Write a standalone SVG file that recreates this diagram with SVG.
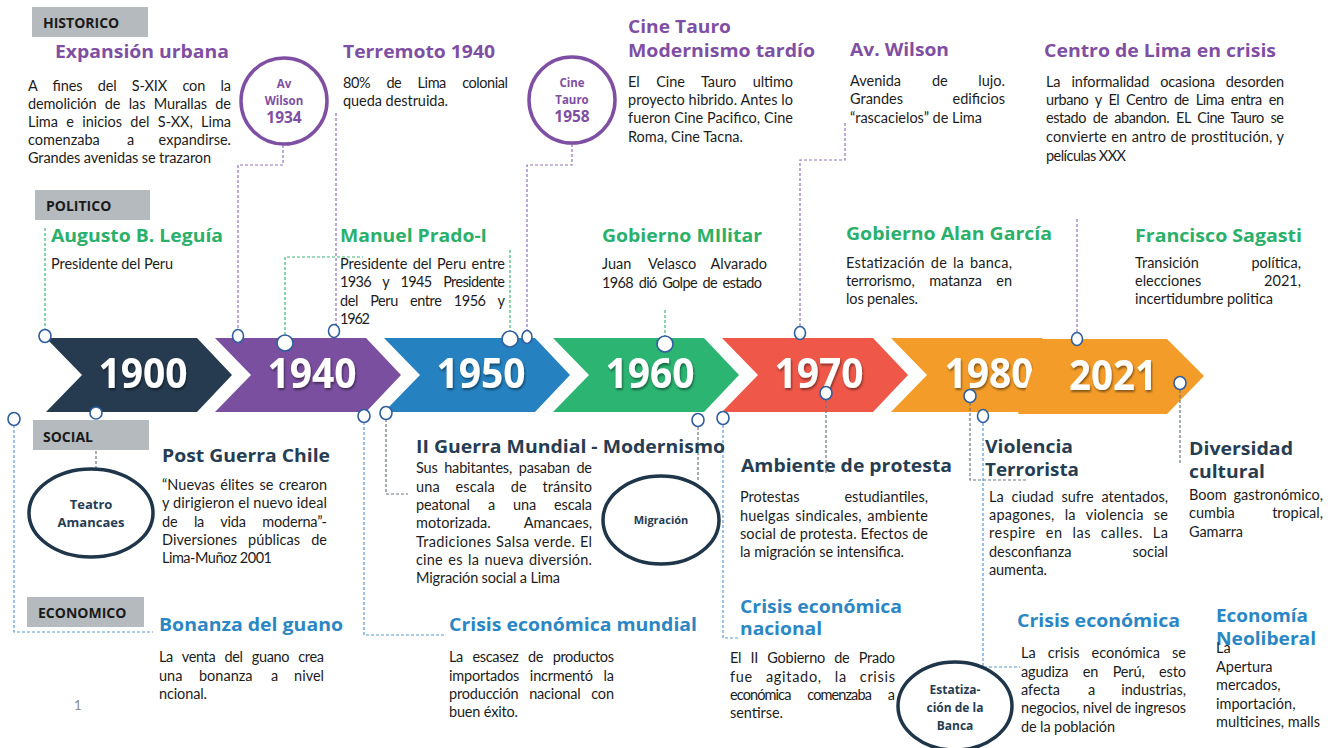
<svg xmlns="http://www.w3.org/2000/svg" width="1339" height="748" viewBox="0 0 1339 748">
<defs>
<filter id="sh" x="-20%" y="-20%" width="140%" height="150%"><feDropShadow dx="1" dy="2" stdDeviation="1" flood-color="#000" flood-opacity="0.45"/></filter>
<style>
.b{font-family:Lato,"Open Sans",sans-serif;font-size:14.5px;fill:#1c1c1c}
.e{text-anchor:end}
.t{font-family:"Open Sans","Noto Sans",sans-serif;font-weight:700;font-size:18px}
.hp{fill:#7f4fa3}.hg{fill:#2ab06a}.hn{fill:#263d52}.hb{fill:#2b87c4}
.cat{font-family:"Open Sans",sans-serif;font-weight:700;font-size:14px;fill:#1a1a1a}
.box{fill:#b4babe}
.yr{font-family:"Open Sans",sans-serif;font-weight:700;font-size:42px;fill:#fff;text-anchor:middle;filter:url(#sh)}
.ct{font-family:"Open Sans",sans-serif;font-weight:700;text-anchor:middle}
.ring{fill:#fff;stroke:#7f4fa3;stroke-width:3.5}
.ell{fill:#fff;stroke:#1f3549;stroke-width:3.5}
.dp,.dg,.dk,.db{fill:none;stroke-width:1.2;stroke-dasharray:3 2}
.dp{stroke:#9572bd}.dg{stroke:#3cb878}.dk{stroke:#6b7580}.db{stroke:#5b9bd5}
.pt{fill:#fff;stroke:#2f5e9e;stroke-width:1.6}
</style>
</defs>
<rect width="1339" height="748" fill="#fff"/>

<!-- category labels -->
<g id="cat-historico"><rect class="box" x="32" y="7" width="116" height="30"/><text class="cat" x="43" y="28">HISTORICO</text></g>
<g id="cat-politico"><rect class="box" x="35" y="190" width="115" height="30"/><text class="cat" x="46" y="211">POLITICO</text></g>
<g id="cat-social"><rect class="box" x="33" y="420" width="116" height="30"/><text class="cat" x="43" y="442">SOCIAL</text></g>
<g id="cat-economico"><rect class="box" x="27" y="597" width="117" height="30"/><text class="cat" x="38" y="618">ECONOMICO</text></g>

<!-- timeline chevrons -->
<g id="y1900"><path d="M46,338 H197 L232,375 L197,412 H46 L82,375 Z" fill="#263b50"/><text class="yr" x="143" y="388" textLength="89" lengthAdjust="spacingAndGlyphs">1900</text></g>
<g id="y1940"><path d="M215,338 H366 L401,375 L366,412 H215 L251,375 Z" fill="#7a4f9f"/><text class="yr" x="312" y="388" textLength="89" lengthAdjust="spacingAndGlyphs">1940</text></g>
<g id="y1950"><path d="M384,338 H535 L570,375 L535,412 H384 L420,375 Z" fill="#2581bf"/><text class="yr" x="481" y="388" textLength="89" lengthAdjust="spacingAndGlyphs">1950</text></g>
<g id="y1960"><path d="M553,338 H704 L739,375 L704,412 H553 L589,375 Z" fill="#2bb472"/><text class="yr" x="650" y="388" textLength="89" lengthAdjust="spacingAndGlyphs">1960</text></g>
<g id="y1970"><path d="M722,338 H873 L908,375 L873,412 H722 L758,375 Z" fill="#ef5749"/><text class="yr" x="819" y="388" textLength="89" lengthAdjust="spacingAndGlyphs">1970</text></g>
<g id="y1980"><path d="M891,338 H1042 L1077,375 L1042,412 H891 L927,375 Z" fill="#f39c29"/><text class="yr" x="989" y="388" textLength="89" lengthAdjust="spacingAndGlyphs">1980</text></g>
<g id="y2021"><path d="M1042,339 H1167 L1204,376 L1167,414 H1018 L1030,376 Z" fill="#f39c29"/><text class="yr" x="1113" y="390" textLength="88" lengthAdjust="spacingAndGlyphs">2021</text></g>

<!-- connectors -->
<g id="connectors">
<path class="dg" d="M45,228 V330"/>
<path class="dp" d="M283,145 V165 H238 V330"/>
<path class="dg" d="M285,335 V257 H363"/>
<path class="dp" d="M336,113 V325"/>
<path class="dg" d="M510,250 V331"/>
<path class="dp" d="M572,144 V165 H527 V330"/>
<path class="dg" d="M665,310 V336"/>
<path class="dp" d="M845,123 V160 H800 V326"/>
<path class="dp" d="M1077,219 V333"/>
<path class="db" d="M14,425 V632 H153"/>
<path class="dk" d="M96,451 V469"/>
<path class="db" d="M364,422 V635 H445"/>
<path class="dk" d="M386,419 V494 H408"/>
<path class="dk" d="M698,427 V482"/>
<path class="db" d="M723,425 V638 H738"/>
<path class="dk" d="M826,400 V473"/>
<path class="dk" d="M970,403 V480 H1028"/>
<path class="db" d="M983,423 V667 H1020"/>
<path class="dk" d="M1180,390 V463"/>
<ellipse class="pt" cx="45" cy="336" rx="6" ry="6.5"/>
<ellipse class="pt" cx="238" cy="336" rx="5.5" ry="6.5"/>
<ellipse class="pt" cx="285" cy="343" rx="8" ry="8"/>
<ellipse class="pt" cx="334" cy="331" rx="5.5" ry="6.5"/>
<ellipse class="pt" cx="510" cy="339" rx="8" ry="8"/>
<ellipse class="pt" cx="527" cy="337" rx="5" ry="6.5"/>
<ellipse class="pt" cx="665" cy="344" rx="8" ry="8"/>
<ellipse class="pt" cx="800" cy="333" rx="5.5" ry="6.5"/>
<ellipse class="pt" cx="1077" cy="339" rx="5.5" ry="6.5"/>
<ellipse class="pt" cx="14" cy="419" rx="6" ry="6.5"/>
<ellipse class="pt" cx="96" cy="413" rx="6" ry="6"/>
<ellipse class="pt" cx="364" cy="416" rx="6" ry="6.5"/>
<ellipse class="pt" cx="386" cy="413" rx="6" ry="6.5"/>
<ellipse class="pt" cx="698" cy="420" rx="6" ry="6.5"/>
<ellipse class="pt" cx="723" cy="418" rx="6" ry="6.5"/>
<ellipse class="pt" cx="826" cy="393" rx="6" ry="6.5"/>
<ellipse class="pt" cx="970" cy="396" rx="6" ry="6.5"/>
<ellipse class="pt" cx="983" cy="416" rx="5.5" ry="6.5"/>
<ellipse class="pt" cx="1180" cy="383" rx="6" ry="6.5"/>
</g>

<!-- HISTORICO nodes -->
<g id="expansion-urbana">
<text class="t hp" x="55" y="58" textLength="174" lengthAdjust="spacingAndGlyphs">Expansión urbana</text>
<text class="b" x="28" y="91" textLength="203" style="word-spacing:11.6px">A fines del S-XIX con la</text>
<text class="b" x="28" y="109" textLength="203" style="word-spacing:4.8px">demolición de las Murallas de</text>
<text class="b" x="28" y="127" textLength="203" style="word-spacing:4.7px">Lima e inicios del S-XX, Lima</text>
<text class="b" x="28" y="145">comenzaba</text><text class="b" x="127" y="145">a</text><text class="b e" x="231" y="145">expandirse.</text>
<text class="b" x="28" y="163" textLength="183">Grandes avenidas se trazaron</text>
</g>
<g id="av-wilson-1934">
<circle class="ring" cx="284" cy="101" r="43"/>
<text class="ct hp" x="284" y="88" font-size="11.5">Av</text>
<text class="ct hp" x="284" y="105" font-size="11.5">Wilson</text>
<text class="ct hp" x="284" y="123" font-size="15.5">1934</text>
</g>
<g id="terremoto-1940">
<text class="t hp" x="343" y="58" textLength="152" lengthAdjust="spacingAndGlyphs">Terremoto 1940</text>
<text class="b" x="343" y="88" textLength="165" style="word-spacing:13px">80% de Lima colonial</text>
<text class="b" x="343" y="106" textLength="105">queda destruida.</text>
</g>
<g id="cine-tauro-1958">
<circle class="ring" cx="572" cy="100" r="43"/>
<text class="ct hp" x="572" y="87" font-size="11.5">Cine</text>
<text class="ct hp" x="572" y="104" font-size="11.5">Tauro</text>
<text class="ct hp" x="572" y="122" font-size="15.5">1958</text>
</g>
<g id="cine-tauro">
<text class="t hp" x="628" y="33" textLength="103" lengthAdjust="spacingAndGlyphs">Cine Tauro</text>
<text class="t hp" x="628" y="57" textLength="187" lengthAdjust="spacingAndGlyphs">Modernismo tardío</text>
<text class="b" x="628" y="87" textLength="165" style="word-spacing:13px">El Cine Tauro ultimo</text>
<text class="b" x="628" y="105" textLength="165">proyecto hibrido. Antes lo</text>
<text class="b" x="628" y="123" textLength="165">fueron Cine Pacifico, Cine</text>
<text class="b" x="628" y="142" textLength="115">Roma, Cine Tacna.</text>
</g>
<g id="av-wilson">
<text class="t hp" x="850" y="56" textLength="99" lengthAdjust="spacingAndGlyphs">Av. Wilson</text>
<text class="b" x="850" y="86">Avenida</text><text class="b" x="932" y="86">de</text><text class="b e" x="1005" y="86">lujo.</text>
<text class="b" x="850" y="104">Grandes</text><text class="b e" x="1005" y="104">edificios</text>
<text class="b" x="850" y="123" textLength="132">“rascacielos” de Lima</text>
</g>
<g id="centro-lima">
<text class="t hp" x="1044" y="57" textLength="232" lengthAdjust="spacingAndGlyphs">Centro de Lima en crisis</text>
<text class="b" x="1046" y="87" textLength="238" style="word-spacing:7.5px">La informalidad ocasiona desorden</text>
<text class="b" x="1046" y="105" textLength="238" style="word-spacing:3.6px">urbano y El Centro de Lima entra en</text>
<text class="b" x="1046" y="123" textLength="238" style="word-spacing:3.5px">estado de abandon. EL Cine Tauro se</text>
<text class="b" x="1046" y="142" textLength="238" style="word-spacing:0.6px">convierte en antro de prostitución, y</text>
<text class="b" x="1046" y="161" textLength="80">películas XXX</text>
</g>

<!-- POLITICO nodes -->
<g id="leguia">
<text class="t hg" x="51" y="242" textLength="172" lengthAdjust="spacingAndGlyphs">Augusto B. Leguía</text>
<text class="b" x="51" y="269" textLength="122">Presidente del Peru</text>
</g>
<g id="prado">
<text class="t hg" x="340" y="242" textLength="147" lengthAdjust="spacingAndGlyphs">Manuel Prado-I</text>
<text class="b" x="340" y="269" textLength="165" style="word-spacing:1.6px">Presidente del Peru entre</text>
<text class="b" x="340" y="287" textLength="165" style="word-spacing:8.5px">1936 y 1945 Presidente</text>
<text class="b" x="340" y="306" textLength="165" style="word-spacing:9px">del Peru entre 1956 y</text>
<text class="b" x="340" y="324" textLength="30">1962</text>
</g>
<g id="gobierno-militar">
<text class="t hg" x="602" y="242" textLength="160" lengthAdjust="spacingAndGlyphs">Gobierno MIlitar</text>
<text class="b" x="602" y="269">Juan</text><text class="b" x="648" y="269">Velasco</text><text class="b e" x="767" y="269">Alvarado</text>
<text class="b" x="602" y="288" textLength="160" style="word-spacing:2.5px">1968 dió Golpe de estado</text>
</g>
<g id="alan-garcia">
<text class="t hg" x="846" y="240" textLength="206" lengthAdjust="spacingAndGlyphs">Gobierno Alan García</text>
<text class="b" x="846" y="268" textLength="166" style="word-spacing:1.9px">Estatización de la banca,</text>
<text class="b" x="846" y="286" textLength="166" style="word-spacing:11px">terrorismo, matanza en</text>
<text class="b" x="846" y="304" textLength="72">los penales.</text>
</g>
<g id="sagasti">
<text class="t hg" x="1135" y="242" textLength="167" lengthAdjust="spacingAndGlyphs">Francisco Sagasti</text>
<text class="b" x="1135" y="268">Transición</text><text class="b e" x="1301" y="268">política,</text>
<text class="b" x="1135" y="286">elecciones</text><text class="b e" x="1301" y="286">2021,</text>
<text class="b" x="1135" y="304" textLength="138">incertidumbre politica</text>
</g>

<!-- SOCIAL nodes -->
<g id="teatro-amancaes">
<ellipse class="ell" cx="91" cy="513" rx="62" ry="44"/>
<text class="ct hn" x="91" y="509" font-size="13">Teatro</text>
<text class="ct hn" x="91" y="527" font-size="13">Amancaes</text>
</g>
<g id="post-guerra">
<text class="t hn" x="162" y="462" textLength="168" lengthAdjust="spacingAndGlyphs">Post Guerra Chile</text>
<text class="b" x="162" y="490" textLength="165" style="word-spacing:1.6px">“Nuevas élites se crearon</text>
<text class="b" x="162" y="508" textLength="165">y dirigieron el nuevo ideal</text>
<text class="b" x="162" y="527" textLength="165" style="word-spacing:13px">de la vida moderna”-</text>
<text class="b" x="162" y="545" textLength="165" style="word-spacing:7.2px">Diversiones públicas de</text>
<text class="b" x="162" y="563" textLength="110">Lima-Muñoz 2001</text>
</g>
<g id="ii-guerra">
<text class="t hn" x="416" y="453" textLength="309" lengthAdjust="spacingAndGlyphs">II Guerra Mundial - Modernismo</text>
<text class="b" x="416" y="473" textLength="176" style="word-spacing:3px">Sus habitantes, pasaban de</text>
<text class="b" x="416" y="492" textLength="176" style="word-spacing:12px">una escala de tránsito</text>
<text class="b" x="416" y="510" textLength="176" style="word-spacing:14.5px">peatonal a una escala</text>
<text class="b" x="416" y="528">motorizada.</text><text class="b e" x="592" y="528">Amancaes,</text>
<text class="b" x="416" y="547" textLength="176" style="word-spacing:0.7px">Tradiciones Salsa verde. El</text>
<text class="b" x="416" y="565" textLength="176" style="word-spacing:1.5px">cine es la nueva diversión.</text>
<text class="b" x="416" y="583" textLength="144">Migración social a Lima</text>
</g>
<g id="migracion">
<ellipse class="ell" cx="661" cy="520" rx="58" ry="44"/>
<text class="ct hn" x="661" y="524" font-size="11">Migración</text>
</g>
<g id="ambiente-protesta">
<text class="t hn" x="741" y="472" textLength="211" lengthAdjust="spacingAndGlyphs">Ambiente de protesta</text>
<text class="b" x="740" y="502">Protestas</text><text class="b e" x="928" y="502">estudiantiles,</text>
<text class="b" x="740" y="521" textLength="188" style="word-spacing:1.5px">huelgas sindicales, ambiente</text>
<text class="b" x="740" y="539" textLength="188">social de protesta. Efectos de</text>
<text class="b" x="740" y="557" textLength="164">la migración se intensifica.</text>
</g>
<g id="violencia">
<text class="t hn" x="985" y="453" textLength="88" lengthAdjust="spacingAndGlyphs">Violencia</text>
<text class="t hn" x="985" y="476" textLength="94" lengthAdjust="spacingAndGlyphs">Terrorista</text>
<text class="b" x="989" y="502" textLength="179" style="word-spacing:4px">La ciudad sufre atentados,</text>
<text class="b" x="989" y="520" textLength="179" style="word-spacing:6.3px">apagones, la violencia se</text>
<text class="b" x="989" y="538" textLength="179" style="word-spacing:5.7px">respire en las calles. La</text>
<text class="b" x="989" y="557">desconfianza</text><text class="b e" x="1168" y="557">social</text>
<text class="b" x="989" y="575" textLength="58">aumenta.</text>
</g>
<g id="diversidad">
<text class="t hn" x="1189" y="455" textLength="104" lengthAdjust="spacingAndGlyphs">Diversidad</text>
<text class="t hn" x="1189" y="478" textLength="76" lengthAdjust="spacingAndGlyphs">cultural</text>
<text class="b" x="1189" y="500">Boom</text><text class="b e" x="1323" y="500">gastronómico,</text>
<text class="b" x="1189" y="518">cumbia</text><text class="b e" x="1323" y="518">tropical,</text>
<text class="b" x="1189" y="537" textLength="54">Gamarra</text>
</g>

<!-- ECONOMICO nodes -->
<g id="bonanza">
<text class="t hb" x="159" y="631" textLength="184" lengthAdjust="spacingAndGlyphs">Bonanza del guano</text>
<text class="b" x="159" y="662" textLength="165" style="word-spacing:5.7px">La venta del guano crea</text>
<text class="b" x="159" y="681">una</text><text class="b" x="199" y="681">bonanza</text><text class="b" x="271" y="681">a</text><text class="b e" x="324" y="681">nivel</text>
<text class="b" x="159" y="699" textLength="48">ncional.</text>
</g>
<g id="crisis-mundial">
<text class="t hb" x="449" y="631" textLength="248" lengthAdjust="spacingAndGlyphs">Crisis económica mundial</text>
<text class="b" x="449" y="662" textLength="165" style="word-spacing:6.2px">La escasez de productos</text>
<text class="b" x="449" y="681" textLength="165" style="word-spacing:7.2px">importados incrmentó la</text>
<text class="b" x="449" y="699" textLength="165" style="word-spacing:7.2px">producción nacional con</text>
<text class="b" x="449" y="717" textLength="69">buen éxito.</text>
</g>
<g id="crisis-nacional">
<text class="t hb" x="740" y="613" textLength="162" lengthAdjust="spacingAndGlyphs">Crisis económica</text>
<text class="t hb" x="740" y="635" textLength="82" lengthAdjust="spacingAndGlyphs">nacional</text>
<text class="b" x="730" y="663" textLength="165" style="word-spacing:5.7px">El II Gobierno de Prado</text>
<text class="b" x="730" y="682" textLength="165" style="word-spacing:8.5px">fue agitado, la crisis</text>
<text class="b" x="730" y="700" textLength="165" style="word-spacing:14px">económica comenzaba a</text>
<text class="b" x="730" y="718" textLength="53">sentirse.</text>
</g>
<g id="estatizacion">
<ellipse class="ell" cx="955" cy="706" rx="57" ry="44"/>
<text class="ct hn" x="955" y="694" font-size="12">Estatiza-</text>
<text class="ct hn" x="955" y="712" font-size="12">ción de la</text>
<text class="ct hn" x="955" y="730" font-size="12">Banca</text>
</g>
<g id="crisis-economica">
<text class="t hb" x="1017" y="627" textLength="163" lengthAdjust="spacingAndGlyphs">Crisis económica</text>
<text class="b" x="1021" y="658" textLength="165" style="word-spacing:8.5px">La crisis económica se</text>
<text class="b" x="1021" y="677" textLength="165" style="word-spacing:10.8px">agudiza en Perú, esto</text>
<text class="b" x="1021" y="695">afecta</text><text class="b" x="1088" y="695">a</text><text class="b e" x="1186" y="695">industrias,</text>
<text class="b" x="1021" y="713" textLength="165">negocios, nivel de ingresos</text>
<text class="b" x="1021" y="732" textLength="94">de la población</text>
</g>
<g id="neoliberal">
<text class="t hb" x="1216" y="622" textLength="92" lengthAdjust="spacingAndGlyphs">Economía</text>
<text class="t hb" x="1216" y="645" textLength="100" lengthAdjust="spacingAndGlyphs">Neoliberal</text>
<text class="b" x="1216" y="653">La</text>
<text class="b" x="1216" y="672">Apertura</text>
<text class="b" x="1216" y="690">mercados,</text>
<text class="b" x="1216" y="709">importación,</text>
<text class="b" x="1216" y="727">multicines, malls</text>
</g>
<text x="74" y="710" font-family="Lato,sans-serif" font-size="13" fill="#8a8a8a">1</text>
</svg>
